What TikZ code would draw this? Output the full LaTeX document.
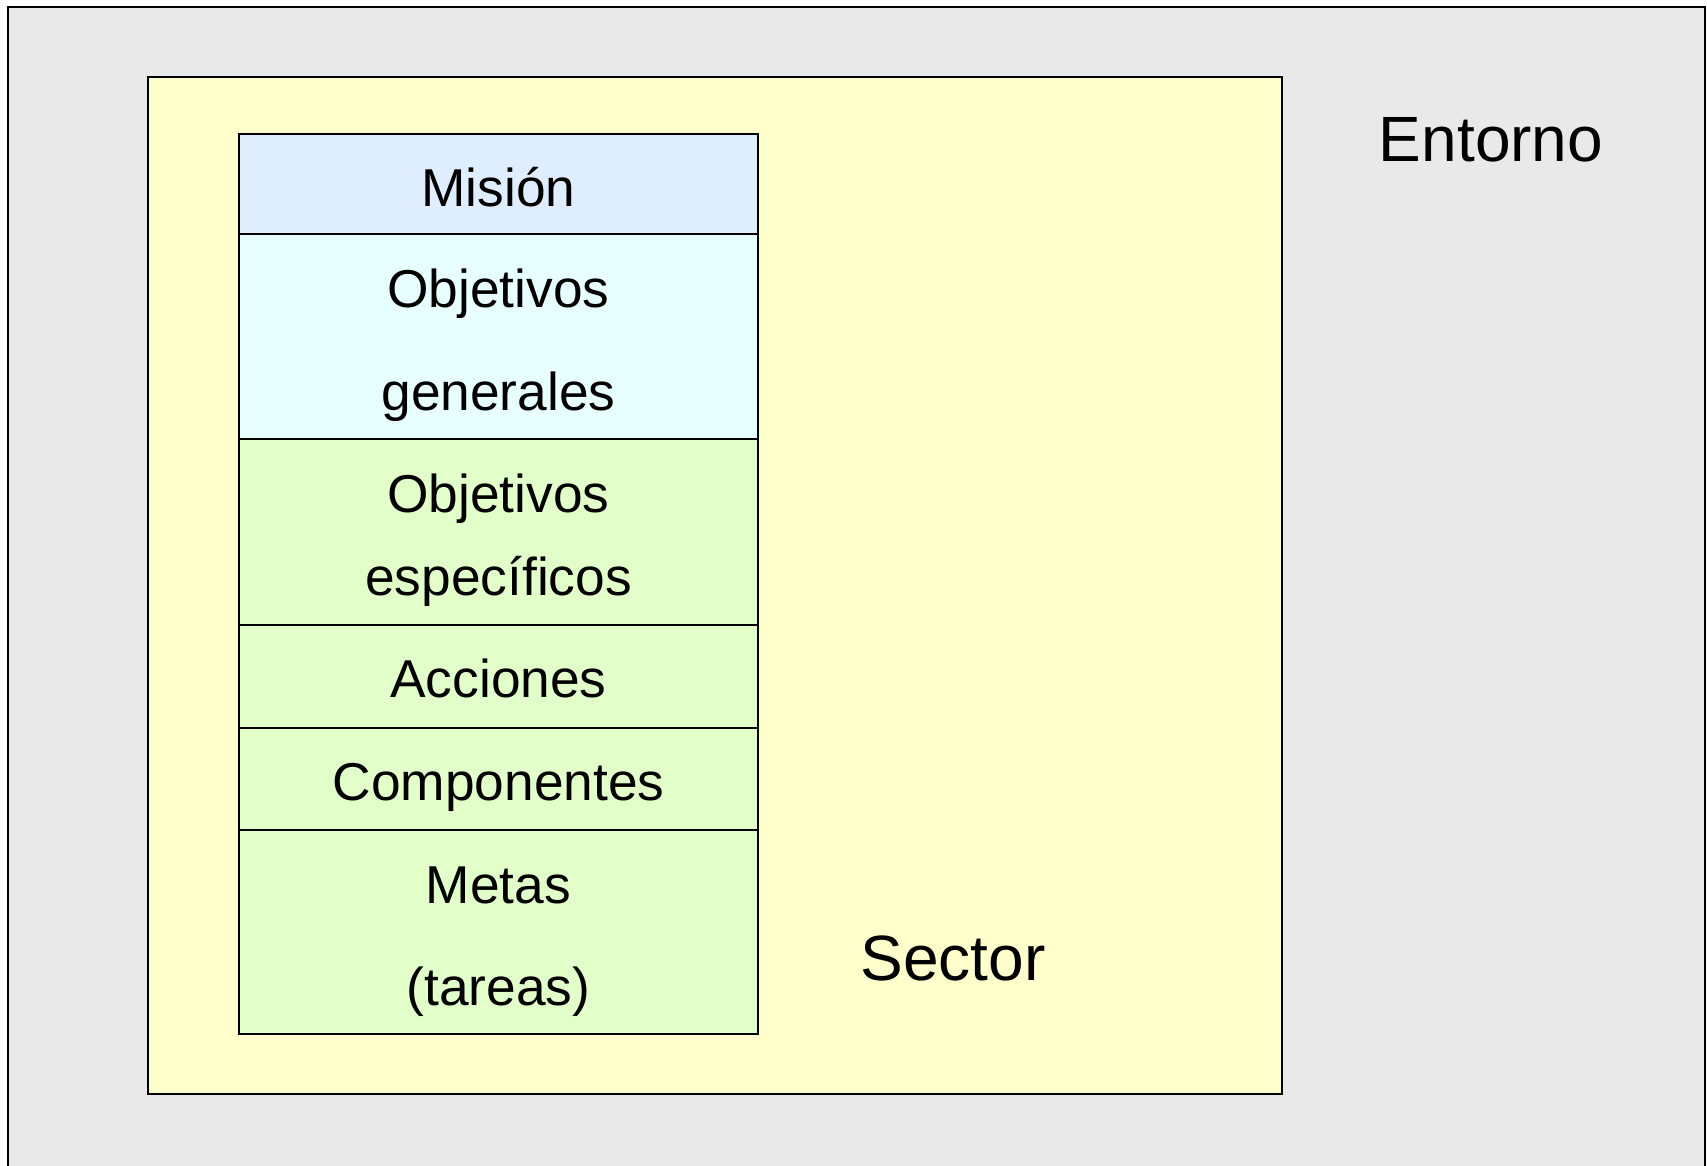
\documentclass[tikz,border=0pt]{standalone}
\usepackage{fontspec}
\setmainfont{Liberation Sans}
\definecolor{envgray}{HTML}{E9E9E9}
\definecolor{sectoryellow}{HTML}{FFFFCC}
\definecolor{misionblue}{HTML}{DFEEFF}
\definecolor{genercyan}{HTML}{E8FFFF}
\definecolor{specgreen}{HTML}{E2FFCA}
\begin{document}
\begin{tikzpicture}[x=1pt,y=-1pt,line width=2.4pt,
  rowbox/.style={draw=black, line width=2.4pt, inner sep=0pt, outer sep=0pt, minimum width=519pt, anchor=north west},
  lbl/.style={anchor=base, inner sep=0pt, font=\fontsize{53.3}{60}\selectfont},
  biglbl/.style={anchor=base, inner sep=0pt, font=\fontsize{64}{70}\selectfont}]
\useasboundingbox (0,0) rectangle (1707,1165);
\clip (0,0) rectangle (1707,1165);
\fill[white] (0,0) rectangle (1707,1165);
% Entorno
\draw[fill=envgray] (8,7) rectangle (1705,1230);
% Sector
\draw[fill=sectoryellow] (148,77) rectangle (1282,1094);
% stack rows
\node[rowbox, fill=misionblue, minimum height=100pt] (mision) at (239,134) {};
\node[rowbox, fill=genercyan, minimum height=205pt] (ogen) at (239,234) {};
\node[rowbox, fill=specgreen, minimum height=186pt] (oesp) at (239,439) {};
\node[rowbox, fill=specgreen, minimum height=103pt] (acc) at (239,625) {};
\node[rowbox, fill=specgreen, minimum height=102pt] (comp) at (239,728) {};
\node[rowbox, fill=specgreen, minimum height=204pt] (metas) at (239,830) {};
% labels
\node[lbl] (tmision) at (498.5,206) {Misión};
\node[lbl] (tog1) at (498.5,307.7) {Objetivos};
\node[lbl] (tog2) at (498.5,410) {generales};
\node[lbl] (toe1) at (498.5,512.7) {Objetivos};
\node[lbl] (toe2) at (498.5,595.7) {específicos};
\node[lbl] (tacc) at (498.5,697.7) {Acciones};
\node[lbl] (tcomp) at (498.5,800.7) {Componentes};
\node[lbl] (tmet1) at (498.5,903.3) {Metas};
\node[lbl] (tmet2) at (498.5,1005) {(tareas)};
\node[biglbl] (tsector) at (953,980) {Sector};
\node[biglbl] (tentorno) at (1491,161) {Entorno};
\end{tikzpicture}
\end{document}
